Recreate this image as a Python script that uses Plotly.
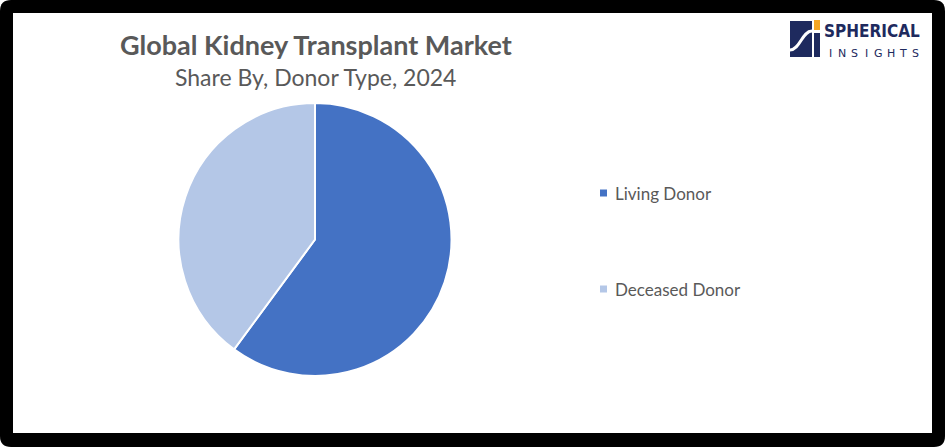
import plotly.graph_objects as go

# ---- data ----
labels = ["Living Donor", "Deceased Donor"]
values = [60.1, 39.9]
colors = ["#4472C4", "#B4C7E7"]
title_text = "Global Kidney Transplant Market"
subtitle_text = "Share By, Donor Type, 2024"
logo_top = "SPHERICAL"
logo_bottom = "INSIGHTS"

W, H = 945, 447

def px(x):
    return x / W

def py(y):
    return 1 - y / H

# pie geometry (pixels)
cx, cy, r = 315, 239.5, 136.5

fig = go.Figure()
fig.add_trace(go.Pie(
    labels=labels, values=values, sort=False, direction="clockwise", rotation=0,
    marker=dict(colors=colors, line=dict(color="white", width=2)),
    textinfo="none", showlegend=False,
    domain=dict(x=[px(cx - r), px(cx + r)], y=[py(cy + r), py(cy - r)]),
))

shapes = []
R = 11
def rr_path(x0, y0, x1, y1, rad):
    pts = [
        f"M {px(x0 + rad)},{py(y0)}",
        f"L {px(x1 - rad)},{py(y0)}",
        f"Q {px(x1)},{py(y0)} {px(x1)},{py(y0 + rad)}",
        f"L {px(x1)},{py(y1 - rad)}",
        f"Q {px(x1)},{py(y1)} {px(x1 - rad)},{py(y1)}",
        f"L {px(x0 + rad)},{py(y1)}",
        f"Q {px(x0)},{py(y1)} {px(x0)},{py(y1 - rad)}",
        f"L {px(x0)},{py(y0 + rad)}",
        f"Q {px(x0)},{py(y0)} {px(x0 + rad)},{py(y0)} Z",
    ]
    return " ".join(pts)

shapes.append(dict(type="path", xref="paper", yref="paper", path=rr_path(0, 0, W, H, R),
                   fillcolor="black", line=dict(width=0), layer="below"))
shapes.append(dict(type="rect", xref="paper", yref="paper", x0=px(13), x1=px(932), y0=py(433), y1=py(13),
                   fillcolor="white", line=dict(width=0), layer="below"))

# logo icon
navy = "#1E2A5E"
shapes.append(dict(type="rect", xref="paper", yref="paper", x0=px(790), x1=px(812), y0=py(57), y1=py(21),
                   fillcolor=navy, line=dict(width=0)))
shapes.append(dict(type="path", xref="paper", yref="paper",
                   path=f"M {px(790)},{py(50)} C {px(800)},{py(50)} {px(802)},{py(31)} {px(812)},{py(31)}",
                   line=dict(color="white", width=3)))
shapes.append(dict(type="rect", xref="paper", yref="paper", x0=px(814), x1=px(820), y0=py(30), y1=py(20),
                   fillcolor="#F5A623", line=dict(width=0)))
shapes.append(dict(type="rect", xref="paper", yref="paper", x0=px(814), x1=px(820), y0=py(57), y1=py(33),
                   fillcolor=navy, line=dict(width=0)))

annotations = []
# legend (manual)
leg_x, leg_y0, leg_gap = 600, 193, 96
for i, (lab, col) in enumerate(zip(labels, colors)):
    yc = leg_y0 + i * leg_gap
    shapes.append(dict(type="rect", xref="paper", yref="paper", x0=px(leg_x), x1=px(leg_x + 7),
                       y0=py(yc + 3.5), y1=py(yc - 3.5), fillcolor=col, line=dict(width=0)))
    annotations.append(dict(x=px(leg_x + 13), y=py(yc), xref="paper", yref="paper", text=lab,
                            showarrow=False, xanchor="left", yanchor="middle",
                            font=dict(family="Lato", size=17, color="#595959")))

annotations.append(dict(x=px(316), y=py(45), xref="paper", yref="paper", text=f"<b>{title_text}</b>",
                        showarrow=False, xanchor="center", yanchor="middle",
                        font=dict(family="Lato", size=27, color="#595959")))
annotations.append(dict(x=px(315), y=py(77), xref="paper", yref="paper", text=subtitle_text,
                        showarrow=False, xanchor="center", yanchor="middle",
                        font=dict(family="Lato", size=23, color="#595959")))
annotations.append(dict(x=px(872), y=py(31), xref="paper", yref="paper", text=f"<b>{logo_top}</b>",
                        showarrow=False, xanchor="center", yanchor="middle",
                        font=dict(family="DejaVu Sans Condensed", size=17, color=navy)))
step = (915 - 830) / (len(logo_bottom) - 1)
for k, ch in enumerate(logo_bottom):
    annotations.append(dict(x=px(830 + k * step), y=py(53), xref="paper", yref="paper", text=ch,
                            showarrow=False, xanchor="center", yanchor="middle",
                            font=dict(family="DejaVu Sans", size=11, color=navy)))

fig.update_layout(width=W, height=H, margin=dict(l=0, r=0, t=0, b=0),
                  paper_bgcolor="white", plot_bgcolor="white",
                  shapes=shapes, annotations=annotations)

fig.write_html("out.html", config={"displayModeBar": False},
               post_script="document.body.style.margin='0';document.body.style.overflow='hidden';")
